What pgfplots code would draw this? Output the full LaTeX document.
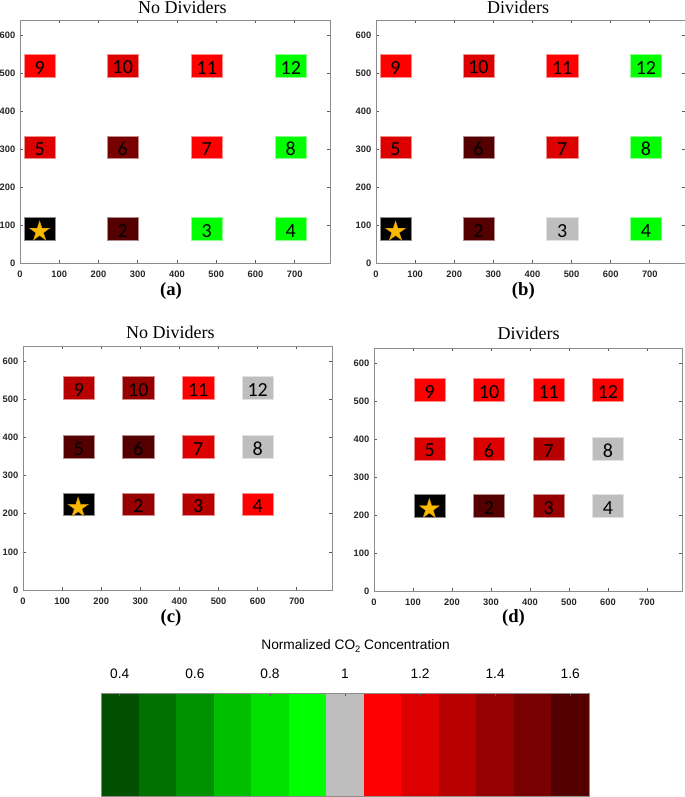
\documentclass[border=0pt]{standalone}
\usepackage{fontspec}
\setmainfont{Liberation Serif}
\newfontfamily\arialf{Liberation Sans}
\newfontfamily\calibrif{Carlito}
\usepackage{pgfplots}
\pgfplotsset{compat=1.18}

\definecolor{g4}{RGB}{0,80,0}
\definecolor{g5}{RGB}{0,112,0}
\definecolor{g6}{RGB}{0,145,0}
\definecolor{g7}{RGB}{0,190,0}
\definecolor{g8}{RGB}{0,225,0}
\definecolor{g9}{RGB}{0,255,0}
\definecolor{gr}{RGB}{190,190,190}
\definecolor{r1}{RGB}{255,0,0}
\definecolor{r2}{RGB}{220,0,0}
\definecolor{r3}{RGB}{185,0,0}
\definecolor{r4}{RGB}{150,0,0}
\definecolor{r5}{RGB}{120,0,0}
\definecolor{r6}{RGB}{85,0,0}
\definecolor{blk}{RGB}{0,0,0}
\definecolor{starc}{RGB}{250,185,0}

\pgfdeclareplotmark{fstar}{%
 \pgfpathmoveto{\pgfpoint{0pt}{\pgfplotmarksize}}%
 \pgfpathlineto{\pgfpoint{-0.2245\pgfplotmarksize}{0.309\pgfplotmarksize}}%
 \pgfpathlineto{\pgfpoint{-0.951\pgfplotmarksize}{0.309\pgfplotmarksize}}%
 \pgfpathlineto{\pgfpoint{-0.363\pgfplotmarksize}{-0.118\pgfplotmarksize}}%
 \pgfpathlineto{\pgfpoint{-0.588\pgfplotmarksize}{-0.809\pgfplotmarksize}}%
 \pgfpathlineto{\pgfpoint{0pt}{-0.382\pgfplotmarksize}}%
 \pgfpathlineto{\pgfpoint{0.588\pgfplotmarksize}{-0.809\pgfplotmarksize}}%
 \pgfpathlineto{\pgfpoint{0.363\pgfplotmarksize}{-0.118\pgfplotmarksize}}%
 \pgfpathlineto{\pgfpoint{0.951\pgfplotmarksize}{0.309\pgfplotmarksize}}%
 \pgfpathlineto{\pgfpoint{0.2245\pgfplotmarksize}{0.309\pgfplotmarksize}}%
 \pgfpathclose
 \pgfusepathqfillstroke}

\newcommand{\cell}[5]{%
 \addplot[fill=#5, draw=#5!45!white, line width=0.4pt] coordinates {(#1,#3) (#2,#3) (#2,#4) (#1,#4)} -- cycle;}

\pgfplotsset{panel/.style={
 scale only axis, anchor=south west,
 xmin=0, xmax=790, ymin=0, ymax=640,
 xtick={0,100,...,700}, ytick={0,100,...,600},
 tick align=inside, major tick length=2pt,
 axis line style={draw=black!45, line width=0.6pt},
 every tick/.style={black!65, line width=0.5pt},
 /pgf/number format/assume math mode=true,
 tick label style={font=\arialf\bfseries\fontsize{7}{9}\selectfont, text=black!85},
 xticklabel style={anchor=base, yshift=-11pt},
 title style={font=\fontsize{13.5}{16}\selectfont, anchor=base},
 xlabel style={font=\bfseries\fontsize{14}{16}\selectfont, anchor=base},
 clip=false,
},
labs/.style={only marks, mark=none, draw=none, point meta=explicit symbolic,
 nodes near coords, nodes near coords style={font=\calibrif\fontsize{15}{18}\selectfont, anchor=center, yshift=-1.5pt, text=black}},
starp/.style={only marks, mark=fstar, mark size=7.9pt, fill=starc, draw=starc!80!black, line width=0.3pt}
}

\begin{document}
\begin{tikzpicture}
\useasboundingbox (0,0) rectangle (513.75pt,-597.75pt);

% (a)
\begin{axis}[panel, at={(15pt,-197.25pt)}, width=232.5pt, height=182.25pt,
 title={No Dividers}, title style={at={(axis description cs:0.524,1)}, yshift=-1pt},
 xlabel={(a)}, xlabel style={at={(axis description cs:0.487,0)}, yshift=-24.5pt}]
\cell{10}{90}{60}{120}{blk}
\cell{222}{302}{60}{120}{r6}
\cell{436}{516}{60}{120}{g9}
\cell{650}{730}{60}{120}{g9}
\cell{10}{90}{275}{335}{r2}
\cell{222}{302}{275}{335}{r5}
\cell{436}{516}{275}{335}{r1}
\cell{650}{730}{275}{335}{g9}
\cell{10}{90}{490}{550}{r1}
\cell{222}{302}{490}{550}{r2}
\cell{436}{516}{490}{550}{r1}
\cell{650}{730}{490}{550}{g9}
\addplot[labs] coordinates {(262,90)[2] (476,90)[3] (690,90)[4] (50,305)[5] (262,305)[6] (476,305)[7] (690,305)[8] (50,520)[9] (262,520)[10] (476,520)[11] (690,520)[12]};
\addplot[starp] coordinates {(50,83)};
\end{axis}

% (b)
\begin{axis}[panel, at={(282pt,-197.25pt)}, width=231.75pt, height=182.25pt,
 title={Dividers}, title style={at={(axis description cs:0.46,1)}, yshift=-1pt},
 xlabel={(b)}, xlabel style={at={(axis description cs:0.477,0)}, yshift=-24.5pt}]
\cell{10}{90}{60}{120}{blk}
\cell{222}{302}{60}{120}{r6}
\cell{436}{516}{60}{120}{gr}
\cell{650}{730}{60}{120}{g9}
\cell{10}{90}{275}{335}{r2}
\cell{222}{302}{275}{335}{r6}
\cell{436}{516}{275}{335}{r2}
\cell{650}{730}{275}{335}{g9}
\cell{10}{90}{490}{550}{r1}
\cell{222}{302}{490}{550}{r2}
\cell{436}{516}{490}{550}{r1}
\cell{650}{730}{490}{550}{g9}
\addplot[labs] coordinates {(262,90)[2] (476,90)[3] (690,90)[4] (50,305)[5] (262,305)[6] (476,305)[7] (690,305)[8] (50,520)[9] (262,520)[10] (476,520)[11] (690,520)[12]};
\addplot[starp] coordinates {(50,83)};
\end{axis}

% (c)
\begin{axis}[panel, at={(17.25pt,-442.5pt)}, width=231.75pt, height=183pt,
 title={No Dividers}, title style={at={(axis description cs:0.477,1)}, yshift=0pt},
 xlabel={(c)}, xlabel style={at={(axis description cs:0.479,0)}, yshift=-24pt}]
\cell{103}{183}{195}{255}{blk}
\cell{255}{335}{195}{255}{r4}
\cell{408}{488}{195}{255}{r3}
\cell{560}{640}{195}{255}{r1}
\cell{103}{183}{345}{405}{r6}
\cell{255}{335}{345}{405}{r6}
\cell{408}{488}{345}{405}{r2}
\cell{560}{640}{345}{405}{gr}
\cell{103}{183}{500}{560}{r3}
\cell{255}{335}{500}{560}{r4}
\cell{408}{488}{500}{560}{r1}
\cell{560}{640}{500}{560}{gr}
\addplot[labs] coordinates {(295,225)[2] (448,225)[3] (600,225)[4] (143,375)[5] (295,375)[6] (448,375)[7] (600,375)[8] (143,530)[9] (295,530)[10] (448,530)[11] (600,530)[12]};
\addplot[starp] coordinates {(141,216)};
\end{axis}

% (d)
\begin{axis}[panel, at={(280.5pt,-443.25pt)}, width=231pt, height=182.25pt,
 title={Dividers}, title style={at={(axis description cs:0.502,1)}, yshift=0.75pt},
 xlabel={(d)}, xlabel style={at={(axis description cs:0.453,0)}, yshift=-23.25pt}]
\cell{103}{183}{195}{255}{blk}
\cell{255}{335}{195}{255}{r6}
\cell{408}{488}{195}{255}{r4}
\cell{560}{640}{195}{255}{gr}
\cell{103}{183}{345}{405}{r2}
\cell{255}{335}{345}{405}{r2}
\cell{408}{488}{345}{405}{r3}
\cell{560}{640}{345}{405}{gr}
\cell{103}{183}{500}{560}{r1}
\cell{255}{335}{500}{560}{r1}
\cell{408}{488}{500}{560}{r1}
\cell{560}{640}{500}{560}{r1}
\addplot[labs] coordinates {(295,225)[2] (448,225)[3] (600,225)[4] (143,375)[5] (295,375)[6] (448,375)[7] (600,375)[8] (143,530)[9] (295,530)[10] (448,530)[11] (600,530)[12]};
\addplot[starp] coordinates {(142,216)};
\end{axis}

% colorbar
\begin{axis}[scale only axis, anchor=south west, at={(75.75pt,-597pt)}, width=366pt, height=77.25pt,
 xmin=0.35, xmax=1.65, ymin=0, ymax=1, ytick=\empty,
 xtick={0.4,0.6,0.8,1.0,1.2,1.4,1.6}, xticklabels={0.4,0.6,0.8,1,1.2,1.4,1.6},
 xtick pos=right, xticklabel pos=right, tick align=inside, major tick length=2pt,
 axis on top,
 axis line style={draw=black!45, line width=0.6pt},
 every tick/.style={black!65, line width=0.5pt},
 xticklabel style={font=\arialf\fontsize{10.3}{12}\selectfont, anchor=base, yshift=11.25pt},
 title={Normalized CO\raisebox{-0.45ex}{\fontsize{7}{8}\selectfont 2} Concentration},
 title style={font=\arialf\fontsize{10.3}{12}\selectfont, anchor=base, at={(axis description cs:0.5216,1)}, yshift=27pt}]
\addplot[fill=g4, draw=none] coordinates {(0.35,0) (0.45,0) (0.45,1) (0.35,1)} -- cycle;
\addplot[fill=g5, draw=none] coordinates {(0.45,0) (0.55,0) (0.55,1) (0.45,1)} -- cycle;
\addplot[fill=g6, draw=none] coordinates {(0.55,0) (0.65,0) (0.65,1) (0.55,1)} -- cycle;
\addplot[fill=g7, draw=none] coordinates {(0.65,0) (0.75,0) (0.75,1) (0.65,1)} -- cycle;
\addplot[fill=g8, draw=none] coordinates {(0.75,0) (0.85,0) (0.85,1) (0.75,1)} -- cycle;
\addplot[fill=g9, draw=none] coordinates {(0.85,0) (0.95,0) (0.95,1) (0.85,1)} -- cycle;
\addplot[fill=gr, draw=none] coordinates {(0.95,0) (1.05,0) (1.05,1) (0.95,1)} -- cycle;
\addplot[fill=r1, draw=none] coordinates {(1.05,0) (1.15,0) (1.15,1) (1.05,1)} -- cycle;
\addplot[fill=r2, draw=none] coordinates {(1.15,0) (1.25,0) (1.25,1) (1.15,1)} -- cycle;
\addplot[fill=r3, draw=none] coordinates {(1.25,0) (1.35,0) (1.35,1) (1.25,1)} -- cycle;
\addplot[fill=r4, draw=none] coordinates {(1.35,0) (1.45,0) (1.45,1) (1.35,1)} -- cycle;
\addplot[fill=r5, draw=none] coordinates {(1.45,0) (1.55,0) (1.55,1) (1.45,1)} -- cycle;
\addplot[fill=r6, draw=none] coordinates {(1.55,0) (1.65,0) (1.65,1) (1.55,1)} -- cycle;
\end{axis}
\end{tikzpicture}
\end{document}
